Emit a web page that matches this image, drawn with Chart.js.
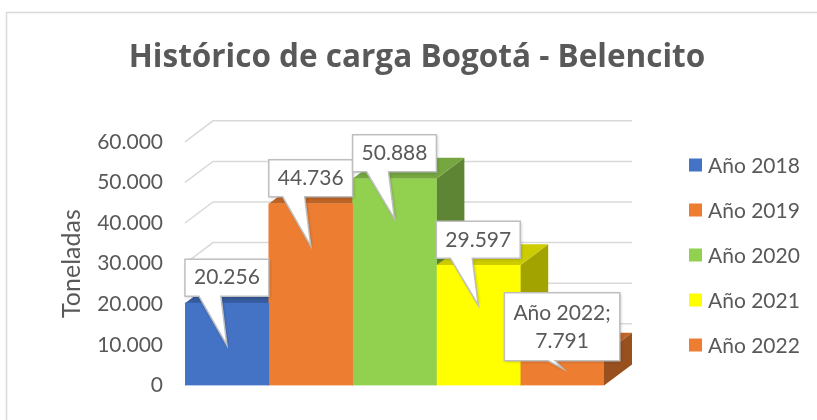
<!DOCTYPE html>
<html>
<head>
<meta charset="utf-8">
<script src="https://cdn.jsdelivr.net/npm/chart.js@4.4.1/dist/chart.umd.min.js"></script>
<style>
  html, body { margin: 0; padding: 0; background: #fff; }
  #contenedor { position: relative; width: 817px; height: 420px; }
</style>
</head>
<body>
<div id="contenedor"><canvas id="graficoCarga"></canvas></div>
<script>
// datos
const anios = ['Año 2018', 'Año 2019', 'Año 2020', 'Año 2021', 'Año 2022'];
const toneladas = [20256, 44736, 50888, 29597, 7791];
const colores = ['#4472C4', '#ED7D31', '#92D050', '#FFFF00', '#ED7D31'];
const conNombreSerie = [false, false, false, false, true];
const titulo = 'Histórico de carga Bogotá - Belencito';
const tituloEjeY = 'Toneladas';

const FUENTE = 'Lato';
const GRIS = '#595959';
const DX = 28, DY = -21; // profundidad 3D

function miles(v) {
  return String(Math.round(v)).replace(/\B(?=(\d{3})+(?!\d))/g, '.');
}

function oscurecer(hex, f) {
  const n = parseInt(hex.slice(1), 16);
  const r = Math.round(((n >> 16) & 255) * f);
  const g = Math.round(((n >> 8) & 255) * f);
  const b = Math.round((n & 255) * f);
  return `rgb(${r},${g},${b})`;
}

function barrasDe(chart) {
  return chart.data.datasets.map((ds, i) => {
    const el = chart.getDatasetMeta(i).data[0];
    const p = el.getProps(['x', 'y', 'base', 'width'], true);
    return { x0: p.x - p.width / 2, x1: p.x + p.width / 2, cx: p.x, top: p.y, base: p.base, w: p.width, color: ds.backgroundColor };
  });
}

// paredes, lineas de division y caras superior/lateral
const barras3D = {
  id: 'barras3D',
  beforeDraw(chart) {
    const ctx = chart.ctx;
    ctx.save();
    ctx.strokeStyle = '#d9d9d9';
    ctx.lineWidth = 1.5;
    ctx.strokeRect(6.5, 12.5, 900, 500);
    ctx.restore();
  },
  beforeDatasetsDraw(chart) {
    const ctx = chart.ctx;
    const area = chart.chartArea;
    const y = chart.scales.y;
    ctx.save();
    ctx.strokeStyle = '#d9d9d9';
    ctx.lineWidth = 1.5;
    y.ticks.forEach(t => {
      const py = y.getPixelForValue(t.value);
      ctx.beginPath();
      ctx.moveTo(area.left, py);
      ctx.lineTo(area.left + DX, py + DY);
      ctx.lineTo(area.right + DX, py + DY);
      ctx.stroke();
    });

    const barras = barrasDe(chart);
    // caras laterales
    barras.forEach(b => {
      ctx.fillStyle = oscurecer(b.color, 0.64);
      ctx.beginPath();
      ctx.moveTo(b.x1, b.top);
      ctx.lineTo(b.x1 + DX, b.top + DY);
      ctx.lineTo(b.x1 + DX, b.base + DY);
      ctx.lineTo(b.x1, b.base);
      ctx.closePath();
      ctx.fill();
    });
    // caras superiores
    barras.forEach(b => {
      ctx.fillStyle = oscurecer(b.color, 0.8);
      ctx.beginPath();
      ctx.moveTo(b.x0, b.top);
      ctx.lineTo(b.x1, b.top);
      ctx.lineTo(b.x1 + DX, b.top + DY);
      ctx.lineTo(b.x0 + DX, b.top + DY);
      ctx.closePath();
      ctx.fill();
    });
    ctx.restore();
  }
};

// globos con los valores y leyenda
const globos = {
  id: 'globos',
  afterDatasetsDraw(chart, args, opts) {
    const ctx = chart.ctx;
    const barras = barrasDe(chart);
    ctx.save();
    ctx.font = `21px ${FUENTE}`;
    ctx.textAlign = 'center';
    ctx.textBaseline = 'middle';
    barras.forEach((b, i) => {
      const val = toneladas[i];
      const lineas = conNombreSerie[i] ? [anios[i] + ';', miles(val)] : [miles(val)];
      const d = opts.ajustes[i];
      const anchoTxt = Math.max(...lineas.map(l => ctx.measureText(l).width));
      const w = Math.max(b.w - 1, anchoTxt + 18);
      const h = lineas.length === 1 ? 37 : 68;
      const left = b.cx - w / 2 + (d.dx || 0);
      const bottom = b.top + d.caja;
      const topY = bottom - h;
      const tipX = b.cx + (d.puntaX || 0);
      const tipY = b.top + d.punta;
      ctx.beginPath();
      ctx.moveTo(left, topY);
      ctx.lineTo(left + w, topY);
      ctx.lineTo(left + w, bottom);
      ctx.lineTo(b.cx + d.base[1], bottom);
      ctx.lineTo(tipX, tipY);
      ctx.lineTo(b.cx + d.base[0], bottom);
      ctx.lineTo(left, bottom);
      ctx.closePath();
      ctx.shadowColor = 'rgba(0,0,0,0.25)';
      ctx.shadowBlur = 3;
      ctx.shadowOffsetX = 1;
      ctx.shadowOffsetY = 1;
      ctx.fillStyle = '#ffffff';
      ctx.fill();
      ctx.shadowColor = 'transparent';
      ctx.strokeStyle = '#bfbfbf';
      ctx.lineWidth = 1.5;
      ctx.stroke();
      ctx.fillStyle = GRIS;
      const cy = topY + h / 2;
      lineas.forEach((l, k) => {
        ctx.fillText(l, left + w / 2, cy + (k - (lineas.length - 1) / 2) * 28);
      });
    });
    ctx.restore();
  },
  afterDraw(chart) {
    const ctx = chart.ctx;
    const x = chart.chartArea.right + 85;
    ctx.save();
    ctx.font = `21px ${FUENTE}`;
    ctx.textBaseline = 'middle';
    chart.data.datasets.forEach((ds, i) => {
      const cy = 165 + i * 45;
      ctx.fillStyle = ds.backgroundColor;
      ctx.fillRect(x, cy - 6.5, 13, 13);
      ctx.fillStyle = GRIS;
      ctx.fillText(ds.label, x + 19, cy + 1);
    });
    ctx.restore();
  }
};

const datasets = anios.map((a, i) => ({
  label: a,
  data: [toneladas[i]],
  backgroundColor: colores[i],
  borderWidth: 0,
  categoryPercentage: 1,
  barPercentage: 1
}));

new Chart(document.getElementById('graficoCarga'), {
  type: 'bar',
  data: { labels: [''], datasets: datasets },
  options: {
    responsive: true,
    maintainAspectRatio: false,
    animation: false,
    layout: { padding: { left: 17, right: 0, top: 0, bottom: 26 } },
    scales: {
      x: { display: false },
      y: {
        min: 0,
        max: 60000,
        afterFit: s => { s.width = 168; },
        grid: { display: false, drawTicks: false },
        border: { display: false },
        ticks: {
          stepSize: 10000,
          padding: 22,
          color: GRIS,
          font: { family: FUENTE, size: 21 },
          callback: v => miles(v)
        },
        title: {
          display: true,
          text: tituloEjeY,
          color: GRIS,
          font: { family: FUENTE, size: 25 },
          padding: { top: 40, bottom: 0 }
        }
      },
      // eje vacio a la derecha: deja el espacio de la leyenda
      derecha: {
        type: 'linear',
        position: 'right',
        display: true,
        afterFit: s => { s.width = 213; },
        grid: { display: false, drawTicks: false },
        border: { display: false },
        ticks: { display: false }
      }
    },
    plugins: {
      legend: { display: false },
      tooltip: { enabled: false },
      title: {
        display: true,
        text: titulo,
        color: GRIS,
        font: { family: 'Open Sans', size: 31.5, weight: 'bold' },
        padding: { top: 39, bottom: 65 }
      },
      globos: {
        ajustes: [
          { caja: -7, punta: 42, base: [-28, -6] },
          { caja: -7, punta: 42, base: [-28, -6] },
          { caja: -7, punta: 40, base: [-28, -6] },
          { caja: -7, punta: 40, base: [-28, -6] },
          { caja: 7, punta: 15, base: [-14, -7], puntaX: 1 }
        ]
      }
    }
  },
  plugins: [barras3D, globos]
});
</script>
</body>
</html>
